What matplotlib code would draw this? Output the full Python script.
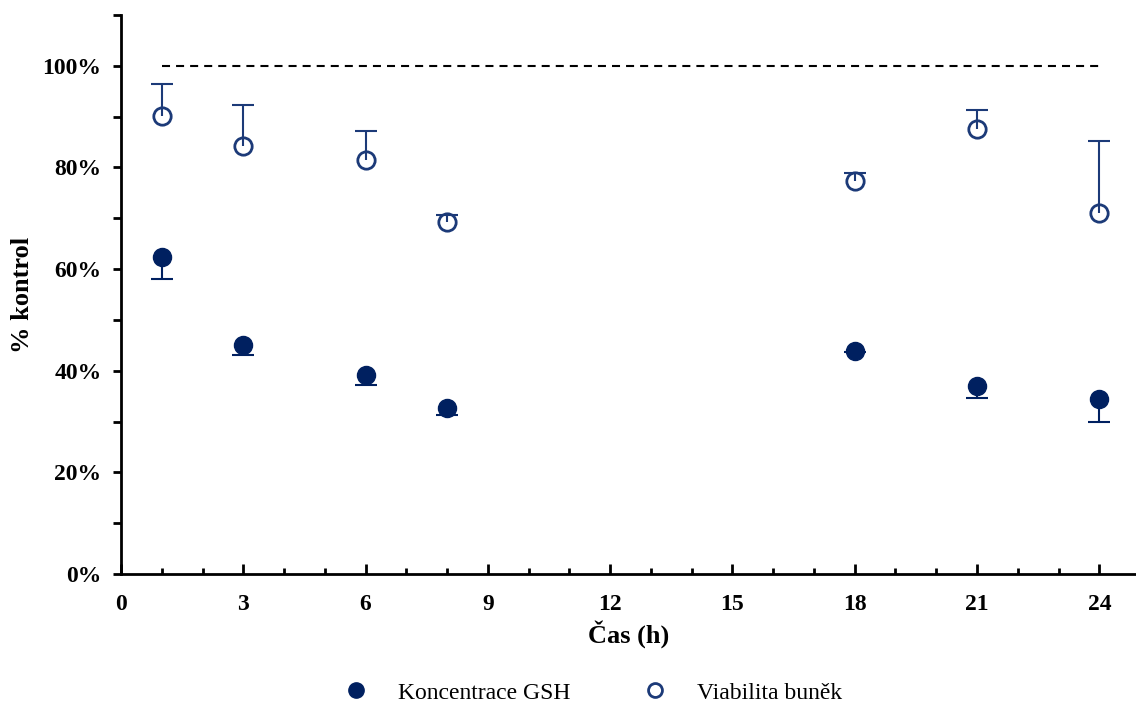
import numpy as np
import matplotlib
matplotlib.use("Agg")
import matplotlib.pyplot as plt
from matplotlib.lines import Line2D
from matplotlib.ticker import MultipleLocator, PercentFormatter

# time points (h)
hours = [1, 3, 6, 8, 18, 21, 24]

# GSH concentration (% of control) and lower error
gsh = [62.4, 45.1, 39.2, 32.7, 43.9, 37.0, 34.4]
gsh_err = [4.3, 2.0, 2.0, 1.4, 0.3, 2.4, 4.5]

# cell viability (% of control) and upper error
viab = [90.2, 84.3, 81.5, 69.3, 77.4, 87.6, 71.1]
viab_err = [6.1, 8.0, 5.7, 1.4, 1.5, 3.7, 14.1]

control_level = 100
control_span = [1, 24]

labels = ["Koncentrace GSH", "Viabilita buněk"]

navy = "#002060"
navy2 = "#1c3a78"

plt.rcParams["font.family"] = ["Liberation Serif", "DejaVu Serif"]

fig = plt.figure(figsize=(11.36, 7.07), dpi=100)
ax = fig.add_axes([0.1065, 0.188, 0.8935, 0.791])

ax.plot(control_span, [control_level, control_level], ls=(0, (3.85, 2.9)),
        color="black", lw=1.5)

h = np.array(hours)
g = np.array(gsh)
ge = np.array(gsh_err)
v = np.array(viab)
ve = np.array(viab_err)

# one-sided error bars: stem + cap
ax.vlines(h, g - ge, g, color=navy, lw=1.5, zorder=2)
ax.plot(h, g - ge, ls="none", marker="_", ms=16, mew=1.5, color=navy, zorder=2)
ax.plot(h, g, ls="none", marker="o", ms=13, color=navy, zorder=3)

ax.plot(h, v, ls="none", marker="o", ms=12.5, mfc="white", mec=navy2,
        mew=2, zorder=3)
ax.vlines(h, v, v + ve, color=navy2, lw=1.5, zorder=4)
ax.plot(h, v + ve, ls="none", marker="_", ms=16, mew=1.5, color=navy2,
        zorder=4)

ax.set_xlim(0, 24.9)
ax.set_ylim(0, 110)
ax.xaxis.set_major_locator(MultipleLocator(3))
ax.xaxis.set_minor_locator(MultipleLocator(1))
ax.yaxis.set_major_locator(MultipleLocator(20))
ax.yaxis.set_minor_locator(MultipleLocator(10))
ax.yaxis.set_major_formatter(PercentFormatter(decimals=0))

for s in ["top", "right"]:
    ax.spines[s].set_visible(False)
for s in ["left", "bottom"]:
    ax.spines[s].set_linewidth(2)

ax.tick_params(axis="x", which="major", direction="in", length=7, width=2,
               pad=14)
ax.tick_params(axis="x", which="minor", direction="in", length=4, width=2)
ax.tick_params(axis="y", which="major", direction="out", length=6, width=2,
               pad=8)
ax.tick_params(axis="y", which="minor", direction="out", length=6, width=2)

for t in ax.get_xticklabels() + ax.get_yticklabels():
    t.set_fontsize(17)
    t.set_fontweight("bold")

ax.set_xlabel("Čas (h)", fontsize=19, fontweight="bold", labelpad=4)
ax.set_ylabel("% kontrol", fontsize=19, fontweight="bold", labelpad=6)

handles = [
    Line2D([], [], marker="o", ls="none", color=navy, ms=11),
    Line2D([], [], marker="o", ls="none", mfc="white", mec=navy2, mew=2, ms=10),
]
fig.legend(handles, labels, loc="center", bbox_to_anchor=(0.517, 0.02),
           ncol=2, frameon=False, fontsize=17, columnspacing=2.6,
           handletextpad=0.78)

fig.savefig("out.png", dpi=100)
